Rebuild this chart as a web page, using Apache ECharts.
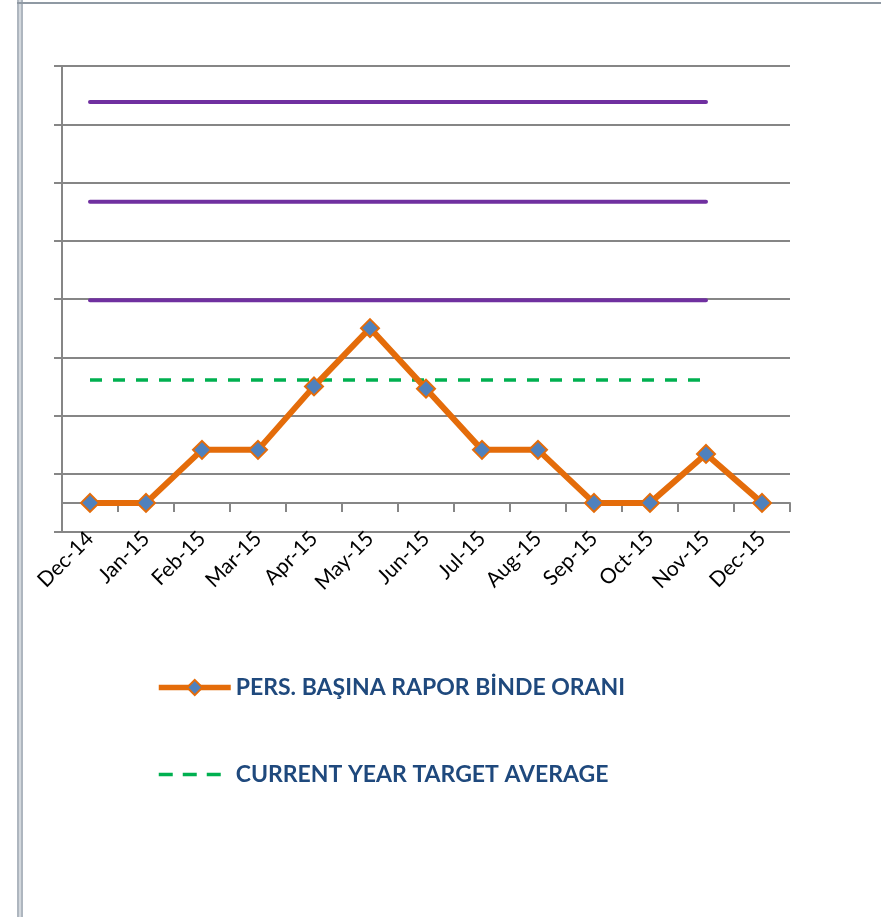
<!DOCTYPE html>
<html>
<head>
<meta charset="utf-8">
<script src="https://cdn.jsdelivr.net/npm/echarts@6/dist/echarts.min.js"></script>
<style>
  html, body { margin: 0; padding: 0; background: #fff; }
  #chart { width: 881px; height: 917px; }
</style>
</head>
<body>
<div id="chart"></div>
<script>
// values, in gridline units (0 sits half a step above the bottom line)
const months = ['Dec-14', 'Jan-15', 'Feb-15', 'Mar-15', 'Apr-15', 'May-15', 'Jun-15',
                'Jul-15', 'Aug-15', 'Sep-15', 'Oct-15', 'Nov-15', 'Dec-15'];
const rateValues = [0, 0, 0.91, 0.91, 2.0, 3.0, 1.96, 0.91, 0.91, 0, 0, 0.84, 0];
const targetAverage = 2.11;
const limitLevels = [3.48, 5.17, 6.88];

const rateName = 'PERS. BAŞINA RAPOR BİNDE ORANI';
const targetName = 'CURRENT YEAR TARGET AVERAGE';

// flat lines run Dec-14 .. Nov-15, nothing at Dec-15
function flat(v) {
  return months.map((m, i) => (i < months.length - 1 ? v : '-'));
}

const gridGray = '#868686';
const font = 'Lato, "Open Sans", sans-serif';

let series = [
  {
    name: rateName,
    type: 'line',
    xAxisIndex: 0,
    yAxisIndex: 1,
    data: rateValues,
    z: 5,
    lineStyle: { color: '#E46C0A', width: 6 },
    symbol: 'diamond',
    symbolSize: 18,
    itemStyle: { color: '#4F81BD', borderColor: '#E46C0A', borderWidth: 2 }
  },
  {
    name: targetName,
    type: 'line',
    xAxisIndex: 0,
    yAxisIndex: 1,
    data: flat(targetAverage),
    z: 4,
    symbol: 'none',
    lineStyle: { color: '#00B050', width: 3.5, type: [12, 11] },
    itemStyle: { color: '#00B050' }
  }
];
limitLevels.forEach((v, i) => {
  series.push({
    name: 'limit' + i,
    type: 'line',
    xAxisIndex: 0,
    yAxisIndex: 1,
    data: flat(v),
    z: 3,
    symbol: 'none',
    lineStyle: { color: '#7030A0', width: 4, cap: 'round' }
  });
});

let option = {
  animation: false,
  backgroundColor: '#fff',
  grid: { left: 62, right: 91, top: 66, bottom: 385, containLabel: false },
  graphic: [
    { type: 'rect', left: 17, top: 0, shape: { width: 6, height: 917 },
      style: { fill: '#AEB6BF' }, z: -10 },
    { type: 'rect', left: 19, top: 0, shape: { width: 2, height: 917 },
      style: { fill: '#D3D8DD' }, z: -9 },
    { type: 'rect', left: 17, top: 2, shape: { width: 864, height: 2 },
      style: { fill: '#8F99A3' }, z: -9 }
  ],
  legend: {
    data: [
      { name: rateName, lineStyle: { width: 5.5 } },
      { name: targetName, itemStyle: { opacity: 0 }, lineStyle: { width: 3.5, type: [14, 10] } }
    ],
    orient: 'vertical',
    left: 151,
    top: 671,
    itemGap: 64,
    itemWidth: 72,
    itemHeight: 19,
    textStyle: { fontFamily: font, fontSize: 23, fontWeight: 'bold', color: '#1F497D' }
  },
  xAxis: [
    {
      type: 'category',
      data: months,
      position: 'bottom',
      boundaryGap: true,
      axisLine: { show: false, onZero: false },
      axisTick: { show: false },
      axisLabel: { rotate: 45, fontSize: 21, fontFamily: font, color: '#000', margin: 3, interval: 0 }
    },
    {
      type: 'category',
      data: months,
      position: 'bottom',
      boundaryGap: true,
      axisLine: { show: true, onZero: true, onZeroAxisIndex: 1, lineStyle: { color: gridGray, width: 2 } },
      axisTick: { show: true, length: 9, lineStyle: { color: gridGray, width: 2 } },
      axisLabel: { show: false }
    }
  ],
  yAxis: [
    {
      // gridline axis
      type: 'value',
      min: 0,
      max: 8,
      interval: 1,
      axisLine: { show: true, lineStyle: { color: gridGray, width: 2 } },
      axisTick: { show: true, length: 8, lineStyle: { color: gridGray, width: 2 } },
      axisLabel: { show: false },
      splitLine: { show: true, lineStyle: { color: gridGray, width: 2 } }
    },
    {
      // data axis, zero half a step above the bottom
      type: 'value',
      min: -0.5,
      max: 7.5,
      show: false,
      splitLine: { show: false }
    }
  ],
  series: series
};

let myChart = echarts.init(document.getElementById('chart'));
myChart.setOption(option);
</script>
</body>
</html>
